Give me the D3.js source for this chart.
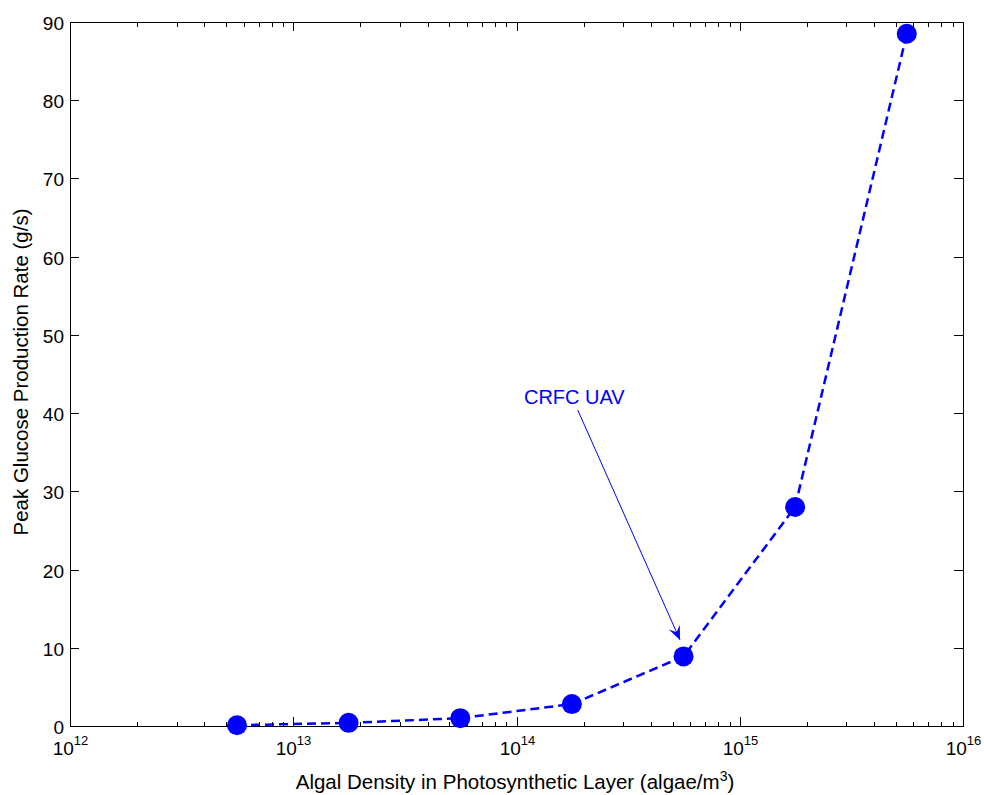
<!DOCTYPE html>
<html><head><meta charset="utf-8">
<script src="https://cdn.jsdelivr.net/npm/d3@7"></script>
<style>body{margin:0;background:#fff}svg{display:block}text{font-family:"Liberation Sans",Arial,sans-serif}</style>
</head><body>
<svg id="c" width="984" height="795"></svg>
<script>
const densities = [5.6e12, 1.77e13, 5.6e13, 1.77e14, 5.6e14, 1.77e15, 5.6e15];
const glucoseRates = [0.1, 0.4, 1.0, 2.8, 8.9, 28.0, 88.5];
const xTickExps = [12, 13, 14, 15, 16];
const yTicks = [0, 10, 20, 30, 40, 50, 60, 70, 80, 90];
const annotationText = "CRFC UAV";
const annotationTextPos = [1.08e14, 41.2];
const annotationArrowFrom = [1.88e14, 40.4];
const annotationArrowTo = [5.4e14, 11.0];

const svg = d3.select("#c");
const L = 70, R = 963, T = 22, B = 726;
const x = d3.scaleLog().domain([1e12, 1e16]).range([L, R]);
const y = d3.scaleLinear().domain([0, 90]).range([B, T]);
const blue = "#0000ff";

svg.append("rect").attr("x", L + 0.5).attr("y", T + 0.5).attr("width", R - L).attr("height", B - T)
  .attr("fill", "none").attr("stroke", "#000").attr("stroke-width", 1).attr("shape-rendering", "crispEdges");

const g = svg.append("g").attr("stroke", "#000").attr("stroke-width", 1).attr("shape-rendering", "crispEdges");
for (let e = 12; e < 16; e++) {
  for (let m = 2; m <= 9; m++) {
    const px = Math.round(x(m * Math.pow(10, e))) + 0.5;
    g.append("line").attr("x1", px).attr("x2", px).attr("y1", B).attr("y2", B - 4.5);
    g.append("line").attr("x1", px).attr("x2", px).attr("y1", T).attr("y2", T + 4.5);
  }
}
xTickExps.forEach(e => {
  const px = Math.round(x(Math.pow(10, e))) + 0.5;
  g.append("line").attr("x1", px).attr("x2", px).attr("y1", B).attr("y2", B - 9);
  g.append("line").attr("x1", px).attr("x2", px).attr("y1", T).attr("y2", T + 9);
  const t = svg.append("text").attr("x", px).attr("y", B + 29).attr("text-anchor", "middle")
    .attr("font-size", 19).attr("fill", "#000");
  t.append("tspan").text("10");
  t.append("tspan").attr("dy", -10).attr("font-size", 13).text(e);
});
yTicks.forEach(v => {
  const py = Math.round(y(v)) + 0.5;
  g.append("line").attr("x1", L).attr("x2", L + 9).attr("y1", py).attr("y2", py);
  g.append("line").attr("x1", R).attr("x2", R - 9).attr("y1", py).attr("y2", py);
  svg.append("text").attr("x", L - 6).attr("y", py + 7).attr("text-anchor", "end")
    .attr("font-size", 19).attr("fill", "#000").text(v);
});

const xl = svg.append("text").attr("x", 515).attr("y", 789).attr("text-anchor", "middle")
  .attr("font-size", 20.5).attr("fill", "#000");
xl.append("tspan").text("Algal Density in Photosynthetic Layer (algae/m");
xl.append("tspan").attr("dy", -8).attr("font-size", 14).text("3");
xl.append("tspan").attr("dy", 8).text(")");
svg.append("text").attr("transform", `translate(28,372) rotate(-90)`).attr("text-anchor", "middle")
  .attr("font-size", 20.5).attr("fill", "#000").text("Peak Glucose Production Rate (g/s)");

const pts = densities.map((d, i) => [d, glucoseRates[i]]);
svg.append("path").datum(pts)
  .attr("d", d3.line().x(d => x(d[0])).y(d => y(d[1])))
  .attr("fill", "none").attr("stroke", blue).attr("stroke-width", 2.5).attr("stroke-dasharray", "9,5");
svg.selectAll("circle.pt").data(pts).join("circle").attr("class", "pt")
  .attr("cx", d => x(d[0])).attr("cy", d => y(d[1])).attr("r", 10).attr("fill", blue);

svg.append("text").attr("x", x(annotationTextPos[0])).attr("y", y(annotationTextPos[1]))
  .attr("font-size", 20).attr("fill", blue).text(annotationText);
const ax1 = x(annotationArrowFrom[0]), ay1 = y(annotationArrowFrom[1]);
const ax2 = x(annotationArrowTo[0]), ay2 = y(annotationArrowTo[1]);
svg.append("line").attr("x1", ax1).attr("y1", ay1).attr("x2", ax2).attr("y2", ay2)
  .attr("stroke", blue).attr("stroke-width", 1);
const ang = Math.atan2(ay2 - ay1, ax2 - ax1);
const hl = 14, hw = 6;
const bx = ax2 - hl * Math.cos(ang), by = ay2 - hl * Math.sin(ang);
const nx = -Math.sin(ang), ny = Math.cos(ang);
const mx = ax2 - hl * 0.6 * Math.cos(ang), my = ay2 - hl * 0.6 * Math.sin(ang);
svg.append("path").attr("d", `M${ax2},${ay2} L${bx + nx * hw},${by + ny * hw} L${mx},${my} L${bx - nx * hw},${by - ny * hw} Z`)
  .attr("fill", blue);
</script>
</body></html>
